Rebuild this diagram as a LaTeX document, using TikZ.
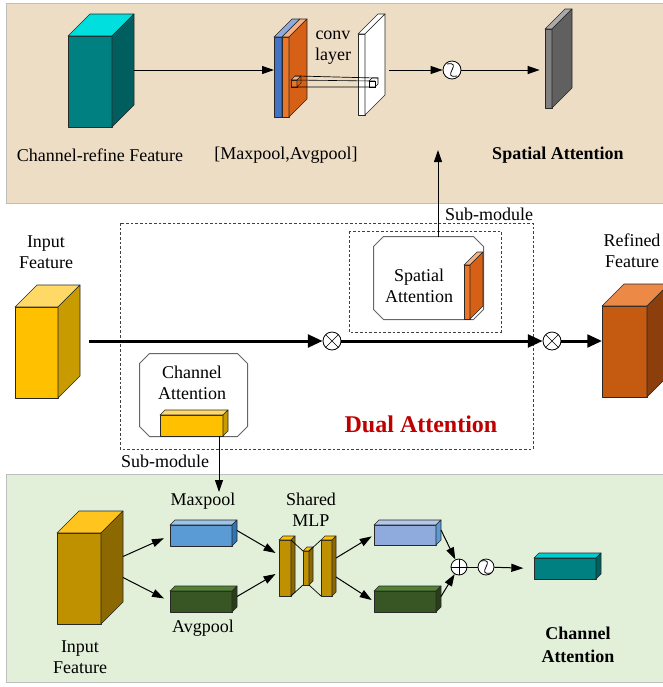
\documentclass[tikz,border=0pt]{standalone}
\usepackage{fontspec}
\setmainfont{Liberation Serif}
\usetikzlibrary{arrows.meta,calc}

\definecolor{topBg}{RGB}{237,221,197}
\definecolor{botBg}{RGB}{226,239,217}
\definecolor{panelBorder}{RGB}{190,190,190}
\definecolor{tealFront}{RGB}{0,128,128}
\definecolor{tealTop}{RGB}{0,222,222}
\definecolor{tealSide}{RGB}{0,94,94}
\definecolor{blueFront}{RGB}{68,114,196}
\definecolor{blueTop}{RGB}{143,170,220}
\definecolor{blueSide}{RGB}{47,85,151}
\definecolor{orgFront}{RGB}{236,118,40}
\definecolor{orgTop}{RGB}{244,177,131}
\definecolor{orgSide}{RGB}{214,96,22}
\definecolor{grayFront}{RGB}{128,128,128}
\definecolor{grayTop}{RGB}{170,170,170}
\definecolor{graySide}{RGB}{96,96,96}
\definecolor{yelFront}{RGB}{255,192,0}
\definecolor{yelTop}{RGB}{255,217,102}
\definecolor{yelSide}{RGB}{200,155,0}
\definecolor{rfFront}{RGB}{197,90,17}
\definecolor{rfTop}{RGB}{237,137,70}
\definecolor{rfSide}{RGB}{140,62,12}
\definecolor{goldFront}{RGB}{191,144,0}
\definecolor{goldTop}{RGB}{255,196,30}
\definecolor{goldSide}{RGB}{140,105,0}
\definecolor{mpFront}{RGB}{91,155,213}
\definecolor{mpTop}{RGB}{157,195,230}
\definecolor{mpSide}{RGB}{46,117,182}
\definecolor{apFront}{RGB}{55,86,35}
\definecolor{apTop}{RGB}{84,130,53}
\definecolor{apSide}{RGB}{40,62,25}
\definecolor{hiFront}{RGB}{143,170,220}
\definecolor{hiTop}{RGB}{180,199,231}
\definecolor{hiSide}{RGB}{91,155,213}
\definecolor{caTealTop}{RGB}{0,206,209}
\definecolor{caTealSide}{RGB}{0,96,96}
\definecolor{darkRed}{RGB}{192,0,0}
\definecolor{edgeGray}{RGB}{40,40,40}

\tikzset{every picture/.style={line width=0.75pt}}
\tikzset{
  facedge/.style={draw=edgeGray, line width=0.5pt, line join=round},
  lbl/.style={font=\fontsize{13.5}{15.75}\selectfont, align=center, inner sep=1pt},
  boldlbl/.style={lbl, font=\fontsize{13.5}{17}\selectfont\bfseries},
  arr/.style={-{Triangle[length=9pt,width=6pt]}, line width=0.75pt},
  bigarr/.style={-{Triangle[length=11pt,width=9.5pt]}, line width=2.25pt},
  dashbox/.style={draw=black!75, dash pattern=on 2pt off 1.5pt, line width=0.6pt},
  octbox/.style={rectangle, inner sep=0pt},
  octline/.style={draw=black!60, fill=white, line width=0.75pt, line join=round},
  ray/.style={line width=0.4pt},
  opnode/.style={circle, draw, fill=white, inner sep=0pt, minimum size=13.5pt, line width=0.6pt},
  otimes/.style={opnode, path picture={\draw[line width=0.5pt] (path picture bounding box.north west) -- (path picture bounding box.south east) (path picture bounding box.north east) -- (path picture bounding box.south west);}},
  oplus/.style={opnode, minimum size=12pt, path picture={\draw[line width=0.5pt] (path picture bounding box.north) -- (path picture bounding box.south) (path picture bounding box.east) -- (path picture bounding box.west);}},
  sigm/.style={opnode, path picture={\draw[line width=0.6pt] ([shift={(5,-6)}]path picture bounding box.center) .. controls ([shift={(-12,-9)}]path picture bounding box.center) and ([shift={(12,9)}]path picture bounding box.center) .. ([shift={(-5,6)}]path picture bounding box.center);}}
}

% #1 name, #2 #3 front top-left, #4 width, #5 height, #6 depth, #7 front, #8 top, #9 side
\newcommand{\cuboid}[9]{%
  \node[facedge, fill=#7, inner sep=0pt, outer sep=0pt, anchor=north west,
        minimum width=#4*0.75pt, minimum height=#5*0.75pt] (#1) at (#2,#3) {};
  \draw[facedge, fill=#8] (#1.north west) -- ++(#6,-#6) -- ++(#4,0) -- (#1.north east) -- cycle;
  \draw[facedge, fill=#9] (#1.north east) -- ++(#6,-#6) -- ++(0,#5) -- (#1.south east) -- cycle;
  \coordinate (#1-far) at ($(#1.east)+(#6,-#6)$);
}
% chamfered outline round a node
\newcommand{\chamfer}[1]{%
  \draw[octline] ($(#1.north west)+(10,0)$) -- ($(#1.north east)+(-10,0)$) -- ($(#1.north east)+(0,10)$)
    -- ($(#1.south east)+(0,-10)$) -- ($(#1.south east)+(-10,0)$) -- ($(#1.south west)+(10,0)$)
    -- ($(#1.south west)+(0,-10)$) -- ($(#1.north west)+(0,10)$) -- cycle;
}

\begin{document}
\begin{tikzpicture}[x=0.75pt,y=0.75pt,yscale=-1,xscale=1]
  \useasboundingbox (0,0) rectangle (663,687);

  % spatial attention panel
  \draw[draw=panelBorder, fill=topBg] (6,3) rectangle (668,203);
  \coordinate (topRow) at (0,70);
  \cuboid{chRef}{68}{36}{44}{91}{22}{tealFront}{tealTop}{tealSide}
  \cuboid{mxSlab}{274}{37}{8}{80}{18}{blueFront}{blueTop}{blueSide}
  \cuboid{avSlab}{282}{37}{7}{80}{18}{orgFront}{orgTop}{orgSide}
  \cuboid{convL}{358}{34}{7}{81}{20}{white}{white}{white}
  \cuboid{kern}{291}{80}{6}{7}{4}{orgFront}{orgTop}{orgSide}
  \coordinate (kTgt) at (369,81);
  \draw[ray] (kTgt) rectangle ++(6,6);
  \draw[ray] (kTgt) -- ++(3,-3) -- ++(6,0) -- ++(0,6) -- ++(-3,3);
  \draw[ray] (kern.north west) -- (kTgt) (kern.south west) -- ($(kTgt)+(0,6)$)
    (kern.north east) -- ($(kTgt)+(6,0)$) (kern.south east) -- ($(kTgt)+(6,6)$)
    ($(kern.north west)+(4,-4)$) -- ($(kTgt)+(3,-3)$) ($(kern.north east)+(4,-4)$) -- ($(kTgt)+(9,-3)$);
  \cuboid{spAtt}{545}{29}{7}{79}{20}{grayFront}{grayTop}{graySide}
  \node[sigm] (sg1) at (452,70) {};

  \draw[arr] (chRef-far |- topRow) -- (mxSlab.west |- topRow);
  \draw[arr, shorten <=3pt] (convL-far |- topRow) -- (sg1);
  \draw[arr, shorten >=4pt] (sg1) -- (spAtt.west |- sg1);

  \node[lbl] (convTxt) at (333,48) {conv\\layer};
  \node[lbl] (chRefTxt) at (100,155) {Channel-refine Feature};
  \node[lbl] (poolTxt) at (286,155) {[Maxpool,Avgpool]};
  \node[boldlbl] (spAttTxt) at (558,155) {Spatial Attention};

  % dual attention
  \draw[dashbox] (120,223) rectangle (533,449);
  \draw[dashbox] (349,231) rectangle (501,332);
  \node[octbox, minimum width=81.75pt, minimum height=61.5pt] (spBox) at (428.5,278) {};
  \chamfer{spBox}
  \cuboid{spSlab}{464}{265}{6}{54}{13}{orgFront}{orgTop}{orgSide}
  \node[lbl] (spBoxTxt) at (419,286) {Spatial\\Attention};
  \coordinate (saTip) at (438,150);
  \draw[arr] (spBox.north -| saTip) -- (saTip);
  \node[lbl] (subTop) at (489,214) {Sub-module};

  \node[octbox, minimum width=80.25pt, minimum height=61.5pt] (caBox) at (193.5,395) {};
  \chamfer{caBox}
  \node[lbl] (caBoxTxt) at (192,383) {Channel\\Attention};
  \cuboid{caBar}{160}{415}{63}{21}{5}{yelFront}{yelTop}{yelSide}
  \node[lbl] (subBot) at (165,461) {Sub-module};
  \node[lbl, text=darkRed, font=\fontsize{18}{20}\selectfont\bfseries] (dualTxt) at (421,424) {Dual Attention};

  \cuboid{inFeat}{15}{307}{43}{91}{22}{yelFront}{yelTop}{yelSide}
  \cuboid{refFeat}{602}{306}{45}{91}{22}{rfFront}{rfTop}{rfSide}
  \node[lbl] (inTxt) at (46,252) {Input\\Feature};
  \node[lbl] (refTxt) at (632,251) {Refined\\Feature};
  \node[otimes] (ot1) at (332,341) {};
  \node[otimes] (ot2) at (552,341) {};
  \coordinate (mainIn) at (89,341);
  \draw[bigarr] (mainIn) -- (ot1);
  \draw[bigarr] (ot1) -- (ot2);
  \draw[bigarr] (ot2) -- (refFeat.west |- ot2);

  % channel attention panel
  \draw[draw=panelBorder, fill=botBg] (6,474) rectangle (668,682);
  \coordinate (mxTip) at (219,492);
  \draw[arr] (caBar.south -| mxTip) -- (mxTip);
  \cuboid{inBig}{57}{533}{44}{91}{22}{goldFront}{goldTop}{goldSide}
  \cuboid{mxPool}{170}{525}{62}{21}{5}{mpFront}{mpTop}{mpSide}
  \cuboid{avPool}{170}{591}{62}{21}{5}{apFront}{apTop}{apSide}
  \cuboid{mlpL}{279}{540}{12}{56}{4}{goldFront}{yelFront}{goldSide}
  \cuboid{mlpM}{303}{551}{6}{34}{4}{goldFront}{yelFront}{goldSide}
  \cuboid{mlpR}{321}{540}{11}{56}{4}{goldFront}{yelFront}{goldSide}
  \cuboid{hiOut}{374}{525}{62}{20}{5}{hiFront}{hiTop}{hiSide}
  \cuboid{loOut}{374}{591}{62}{21}{5}{apFront}{apTop}{apSide}
  \cuboid{chAtt}{534}{558}{62}{21}{5}{tealFront}{caTealTop}{caTealSide}
  \node[oplus] (sum) at (459,567) {};
  \node[sigm, minimum size=12pt] (sg2) at (486,567) {};

  \draw[line width=0.5pt] (mlpL.north east) -- (mlpM.north west) (mlpM.north east) -- (mlpR.north west)
    (mlpL.south east) -- (mlpM.south west) (mlpM.south east) -- (mlpR.south west);
  \draw[arr, shorten >=5pt] (inBig-far) -- (mxPool.west);
  \draw[arr, shorten >=5pt] ($(inBig-far)+(0,21)$) -- (avPool.west);
  \draw[arr, shorten >=3pt] (mxPool-far) -- ($(mlpL.west)+(0,-13)$);
  \draw[arr, shorten >=3pt] (avPool-far) -- ($(mlpL.west)+(0,4)$);
  \draw[arr, shorten >=2pt] ($(mlpR-far)+(0,-6)$) -- (hiOut.west);
  \draw[arr, shorten >=2pt] ($(mlpR-far)+(0,13)$) -- (loOut.west);
  \draw[arr] (hiOut-far) -- (sum);
  \draw[arr] (loOut-far) -- (sum);
  \draw (sum) -- (sg2);
  \draw[arr, shorten >=8pt] (sg2) -- (chAtt.west);

  \node[lbl] (mxTxt) at (203,501) {Maxpool};
  \node[lbl] (avTxt) at (203,628) {Avgpool};
  \node[lbl] (mlpTxt) at (311,510) {Shared\\MLP};
  \node[lbl] (inBigTxt) at (80,657) {Input\\Feature};
  \node[boldlbl] (chAttTxt) at (578,645) {Channel\\Attention};

\end{tikzpicture}
\end{document}
